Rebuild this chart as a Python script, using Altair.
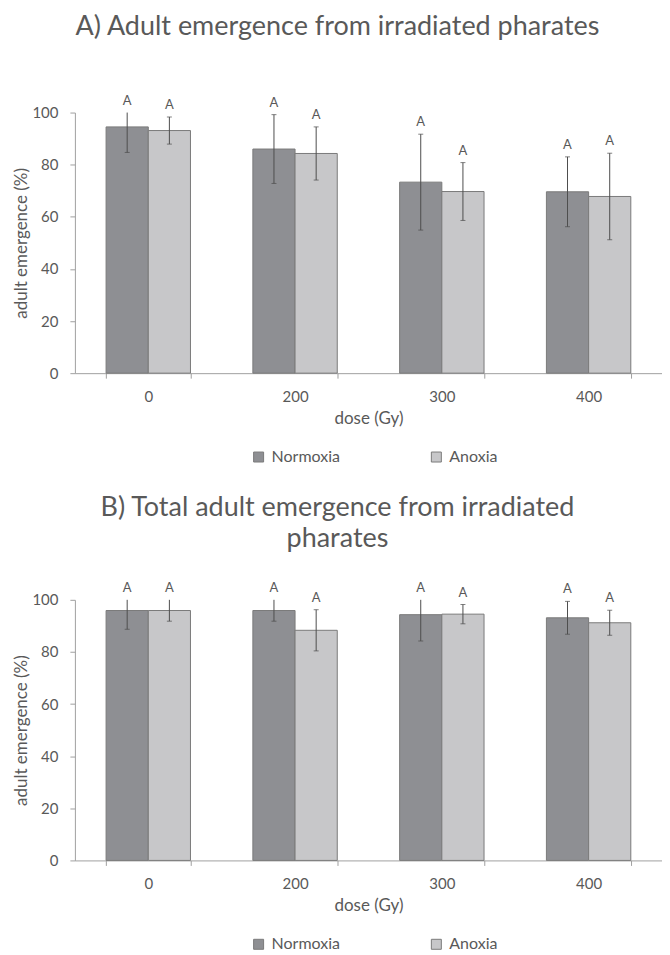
import altair as alt
import pandas as pd

# ---- data ----
doses = ["0", "200", "300", "400"]
treatments = ["Normoxia", "Anoxia"]
letters = ["A", "A", "A", "A"]

# Panel A: adult emergence from irradiated pharates
a_norm_mean = [94.5, 86.0, 73.3, 69.6]
a_norm_sd = [9.8, 13.2, 18.4, 13.4]
a_anox_mean = [93.1, 84.3, 69.7, 67.8]
a_anox_sd = [5.2, 10.2, 11.1, 16.6]

# Panel B: total adult emergence from irradiated pharates
b_norm_mean = [95.9, 95.9, 94.3, 93.1]
b_norm_sd = [7.2, 4.1, 10.1, 6.3]
b_anox_mean = [95.9, 88.3, 94.5, 91.2]
b_anox_sd = [4.1, 7.9, 3.7, 4.8]

y_ticks = [0, 20, 40, 60, 80, 100]

FONT = "Lato"
TXT = "#595959"
AX = "#a0a0a0"
ERR = "#4d4d4d"
NORM = "#8e8f93"
ANOX = "#c7c7c9"
W = 588
H = 261


def frame(norm_mean, norm_sd, anox_mean, anox_sd):
    rows = []
    for i, d in enumerate(doses):
        rows.append(dict(dose=d, treatment="Normoxia", mean=norm_mean[i],
                         sd=norm_sd[i], letter=letters[i]))
        rows.append(dict(dose=d, treatment="Anoxia", mean=anox_mean[i],
                         sd=anox_sd[i], letter=letters[i]))
    return pd.DataFrame(rows)


def panel(df, title, legend_y):
    base = alt.Chart(df).transform_calculate(
        lo="datum.mean - datum.sd",
        rawhi="datum.mean + datum.sd",
        hi="min(datum.mean + datum.sd, 100)",
    )
    x = alt.X(
        "dose:N", sort=doses,
        scale=alt.Scale(paddingInner=0.425, paddingOuter=0.2125),
        axis=alt.Axis(title="dose (Gy)", labelAngle=0, tickBand="extent",
                      domainColor=AX, tickColor=AX, tickSize=5,
                      labelPadding=11, titlePadding=6,
                      labelFontSize=15, titleFontSize=17,
                      labelColor=TXT, titleColor=TXT,
                      titleFontWeight="normal"),
    )
    xo = alt.XOffset("treatment:N", sort=treatments,
                     scale=alt.Scale(paddingInner=0, paddingOuter=0))

    def yenc(field):
        return alt.Y(
            field, scale=alt.Scale(domain=[0, 100]),
            title="adult emergence (%)",
            axis=alt.Axis(values=y_ticks, grid=False, domainColor=AX,
                          tickColor=AX, tickSize=5, labelPadding=12,
                          titlePadding=1, labelFontSize=15, titleFontSize=17,
                          labelColor=TXT, titleColor=TXT,
                          titleFontWeight="normal"),
        )

    color = alt.Color(
        "treatment:N", sort=treatments,
        scale=alt.Scale(domain=treatments, range=[NORM, ANOX]),
        legend=alt.Legend(title=None, orient="none", legendX=176,
                          legendY=legend_y, direction="horizontal",
                          symbolType="square", symbolSize=100,
                          symbolStrokeColor="#7a7a7a", symbolStrokeWidth=1,
                          labelFontSize=16, labelColor=TXT,
                          columnPadding=88, labelOffset=5),
    )
    bars = base.mark_bar(stroke="#7a7a7a", strokeWidth=1).encode(
        x=x, xOffset=xo, y=yenc("mean:Q"), color=color)
    rules = base.mark_rule(color=ERR, strokeWidth=1).encode(
        x=x, xOffset=xo, y=yenc("lo:Q"), y2="hi:Q")
    cap_lo = base.mark_tick(orient="horizontal", size=5, thickness=1,
                            color=ERR).encode(x=x, xOffset=xo, y=yenc("lo:Q"))
    cap_hi = base.transform_filter("datum.rawhi < 99.9").mark_tick(
        orient="horizontal", size=5, thickness=1, color=ERR
    ).encode(x=x, xOffset=xo, y=yenc("hi:Q"))
    labels = base.mark_text(font=FONT, fontSize=13, color=TXT,
                            baseline="alphabetic", dy=-8).encode(
        x=x, xOffset=xo, y=yenc("hi:Q"), text="letter:N")
    return alt.layer(bars, rules, cap_lo, cap_hi, labels).properties(
        width=W, height=H, title=title)


df_a = frame(a_norm_mean, a_norm_sd, a_anox_mean, a_anox_sd)
df_b = frame(b_norm_mean, b_norm_sd, b_anox_mean, b_anox_sd)

title_a = alt.TitleParams(
    text="A) Adult emergence from irradiated pharates",
    font=FONT, fontSize=27, fontWeight="normal", color=TXT,
    anchor="middle", frame="bounds", offset=54)
title_b = alt.TitleParams(
    text=["B) Total adult emergence from irradiated", "pharates"],
    font=FONT, fontSize=27, fontWeight="normal", color=TXT,
    anchor="middle", frame="bounds", offset=29, lineHeight=31)

chart = alt.vconcat(
    panel(df_a, title_a, 337),
    panel(df_b, title_b, 337),
    spacing=29,
).resolve_scale(color="independent").properties(
    padding={"left": 4, "top": 4, "right": 0, "bottom": 0}
).configure_view(strokeWidth=0).configure_axis(
    labelFont=FONT, titleFont=FONT
).configure_legend(labelFont=FONT)

chart.save("out.html", embed_options={"renderer": "svg", "actions": False})
